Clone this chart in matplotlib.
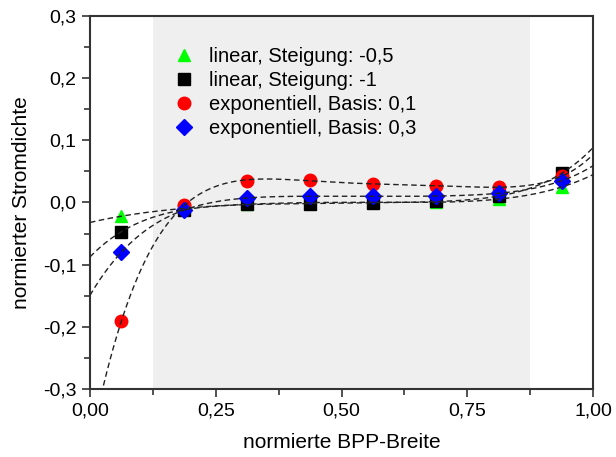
import numpy as np
import matplotlib.pyplot as plt
from matplotlib.ticker import MultipleLocator, FuncFormatter

plt.rcParams['font.family'] = ['Liberation Sans', 'DejaVu Sans']

# --- data ---
x_pos = [0.0625, 0.1875, 0.3125, 0.4375, 0.5625, 0.6875, 0.8125, 0.9375]
lin_05 = [-0.022, -0.010, -0.002, -0.001, 0.000, 0.001, 0.005, 0.025]
lin_1 = [-0.047, -0.012, -0.003, -0.002, -0.001, 0.002, 0.010, 0.047]
exp_01 = [-0.191, -0.004, 0.035, 0.036, 0.030, 0.026, 0.025, 0.042]
exp_03 = [-0.080, -0.012, 0.007, 0.010, 0.010, 0.010, 0.015, 0.035]

series = [
    (lin_05, 'linear, Steigung: -0,5', '^', '#00ff00'),
    (lin_1, 'linear, Steigung: -1', 's', 'black'),
    (exp_01, 'exponentiell, Basis: 0,1', 'o', 'red'),
    (exp_03, 'exponentiell, Basis: 0,3', 'D', 'blue'),
]

fig = plt.figure(figsize=(6.16, 4.57), dpi=100)
ax = fig.add_axes([0.146, 0.149, 0.817, 0.816])

ax.axvspan(0.125, 0.875, color='#efefef', zorder=0, lw=0)

# polynomial fits drawn as dashed lines over the whole width
xs = np.linspace(0, 1, 300)
for vals, label, mk, col in series:
    coef = np.polyfit(x_pos, vals, 5)
    ax.plot(xs, np.polyval(coef, xs), color='#222222', lw=1.0, dashes=(4, 2.5), zorder=3)

for vals, label, mk, col in series:
    ms = 8 if mk == 'D' else 9
    ax.plot(x_pos, vals, mk, color=col, ms=ms, label=label, zorder=2, mec=col)

ax.set_xlim(0, 1)
ax.set_ylim(-0.3, 0.3)
ax.xaxis.set_major_locator(MultipleLocator(0.25))
ax.xaxis.set_minor_locator(MultipleLocator(0.125))
ax.yaxis.set_major_locator(MultipleLocator(0.1))
ax.yaxis.set_minor_locator(MultipleLocator(0.05))
ax.xaxis.set_major_formatter(FuncFormatter(lambda v, p: f'{v:.2f}'.replace('.', ',')))
ax.yaxis.set_major_formatter(FuncFormatter(lambda v, p: f'{v:.1f}'.replace('.', ',').replace('-0,0', '0,0')))
ax.tick_params(which='both', direction='out', labelsize=14, width=1.2, color='#333333')
ax.tick_params(which='major', length=6)
ax.tick_params(which='minor', length=4)
for s in ax.spines.values():
    s.set_linewidth(1.5)
    s.set_color('#333333')

ax.set_xlabel('normierte BPP-Breite', fontsize=15, labelpad=10)
ax.set_ylabel('normierter Stromdichte', fontsize=15, labelpad=9)

ax.legend(loc='upper left', bbox_to_anchor=(0.12, 0.965), frameon=False, fontsize=14.5,
          handletextpad=0.5, labelspacing=0.25, handlelength=1.5)

fig.savefig('out.png', dpi=100)
